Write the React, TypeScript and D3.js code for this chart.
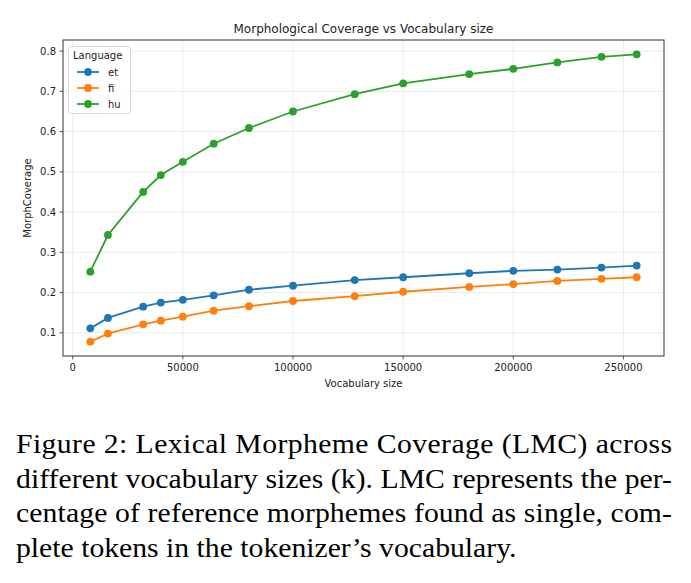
import React from "react";
import * as d3 from "d3";

const vocabSizes = [8000, 16000, 32000, 40000, 50000, 64000, 80000, 100000, 128000, 150000, 180000, 200000, 220000, 240000, 256000];
const etValues = [0.111, 0.137, 0.165, 0.175, 0.182, 0.193, 0.207, 0.217, 0.231, 0.238, 0.248, 0.254, 0.257, 0.262, 0.267];
const fiValues = [0.078, 0.098, 0.121, 0.130, 0.140, 0.155, 0.166, 0.179, 0.191, 0.202, 0.214, 0.221, 0.229, 0.234, 0.238];
const huValues = [0.252, 0.343, 0.450, 0.492, 0.525, 0.570, 0.609, 0.650, 0.693, 0.720, 0.743, 0.756, 0.772, 0.786, 0.792];
const languages = ["et", "fi", "hu"];
const xTicks = [0, 50000, 100000, 150000, 200000, 250000];
const yTicks = [0.1, 0.2, 0.3, 0.4, 0.5, 0.6, 0.7, 0.8];
const captionLines = [
  "Figure 2: Lexical Morpheme Coverage (LMC) across",
  "different vocabulary sizes (k). LMC represents the per-",
  "centage of reference morphemes found as single, com-",
  "plete tokens in the tokenizer\u2019s vocabulary.",
];

const colors = ["#1f77b4", "#ff7f0e", "#2ca02c"];
const series = [etValues, fiValues, huValues];

const left = 63;
const right = 664;
const top = 40;
const bottom = 356;
const font = "DejaVu Sans, sans-serif";
// caption glyphs look a bit wider than plain Times, so stretch horizontally
const capScale = 1.1;
const capWidth = 656;

export default function App() {
  const allY = series.flat();
  const xMin = d3.min(vocabSizes) as number;
  const xMax = d3.max(vocabSizes) as number;
  const yMin = d3.min(allY) as number;
  const yMax = d3.max(allY) as number;
  const xPad = (xMax - xMin) * 0.05;
  const yPad = (yMax - yMin) * 0.05;

  const x = d3.scaleLinear().domain([xMin - xPad, xMax + xPad]).range([left, right]);
  const y = d3.scaleLinear().domain([yMin - yPad, yMax + yPad]).range([bottom, top]);

  const line = d3
    .line<number>()
    .x((_, i) => x(vocabSizes[i]))
    .y((d) => y(d));

  return (
    <svg
      width={691}
      height={583}
      style={{ position: "absolute", left: 0, top: 0, background: "#fff" }}
    >
      <rect x={0} y={0} width={691} height={583} fill="#fff" />
      {/* grid */}
      {xTicks.map((t) => (
        <line key={"gx" + t} x1={x(t)} x2={x(t)} y1={top} y2={bottom} stroke="#e6e6e6" strokeWidth={0.8} />
      ))}
      {yTicks.map((t) => (
        <line key={"gy" + t} x1={left} x2={right} y1={y(t)} y2={y(t)} stroke="#e6e6e6" strokeWidth={0.8} />
      ))}

      {/* series */}
      {series.map((vals, si) => (
        <g key={languages[si]}>
          <path d={line(vals) || ""} fill="none" stroke={colors[si]} strokeWidth={1.8} />
          {vals.map((v, i) => (
            <circle key={i} cx={x(vocabSizes[i])} cy={y(v)} r={3.9} fill={colors[si]} />
          ))}
        </g>
      ))}

      {/* frame */}
      <rect x={left} y={top} width={right - left} height={bottom - top} fill="none" stroke="#333" strokeWidth={1} />

      {/* x ticks */}
      {xTicks.map((t) => (
        <g key={"xt" + t}>
          <line x1={x(t)} x2={x(t)} y1={bottom} y2={bottom + 3.5} stroke="#333" strokeWidth={0.8} />
          <text x={x(t)} y={bottom + 15} textAnchor="middle" fontFamily={font} fontSize={10} fill="#222">
            {t}
          </text>
        </g>
      ))}
      {/* y ticks */}
      {yTicks.map((t) => (
        <g key={"yt" + t}>
          <line x1={left - 3.5} x2={left} y1={y(t)} y2={y(t)} stroke="#333" strokeWidth={0.8} />
          <text x={left - 7} y={y(t) + 3.6} textAnchor="end" fontFamily={font} fontSize={10} fill="#222">
            {t.toFixed(1)}
          </text>
        </g>
      ))}

      {/* labels */}
      <text x={(left + right) / 2} y={33} textAnchor="middle" fontFamily={font} fontSize={12} fill="#222">
        Morphological Coverage vs Vocabulary size
      </text>
      <text x={(left + right) / 2} y={387} textAnchor="middle" fontFamily={font} fontSize={10} fill="#222">
        Vocabulary size
      </text>
      <text
        transform={`translate(31,${(top + bottom) / 2}) rotate(-90)`}
        textAnchor="middle"
        fontFamily={font}
        fontSize={10}
        fill="#222"
      >
        MorphCoverage
      </text>

      {/* legend */}
      <g>
        <rect x={68.5} y={46.5} width={62} height={67} rx={2.5} fill="#fff" fillOpacity={0.85} stroke="#d0d0d0" strokeWidth={0.8} />
        <text x={73} y={59} fontFamily={font} fontSize={10} fill="#222">
          Language
        </text>
        {languages.map((lang, i) => {
          const ly = 72 + i * 16;
          return (
            <g key={"lg" + lang}>
              <line x1={77} x2={99} y1={ly} y2={ly} stroke={colors[i]} strokeWidth={1.8} />
              <circle cx={88} cy={ly} r={3.9} fill={colors[i]} />
              <text x={108} y={ly + 3.6} fontFamily={font} fontSize={10} fill="#222">
                {lang}
              </text>
            </g>
          );
        })}
      </g>

      {/* caption */}
      {captionLines.map((ln, i) => (
        <text
          key={"cap" + i}
          transform={`translate(16,${453 + i * 34.7}) scale(${capScale},1)`}
          fontFamily="'Liberation Serif', 'Times New Roman', serif"
          fontSize={27}
          fill="#000"
          textLength={i < 3 ? capWidth / capScale : undefined}
          lengthAdjust={i < 3 ? "spacing" : undefined}
        >
          {ln}
        </text>
      ))}
    </svg>
  );
}
